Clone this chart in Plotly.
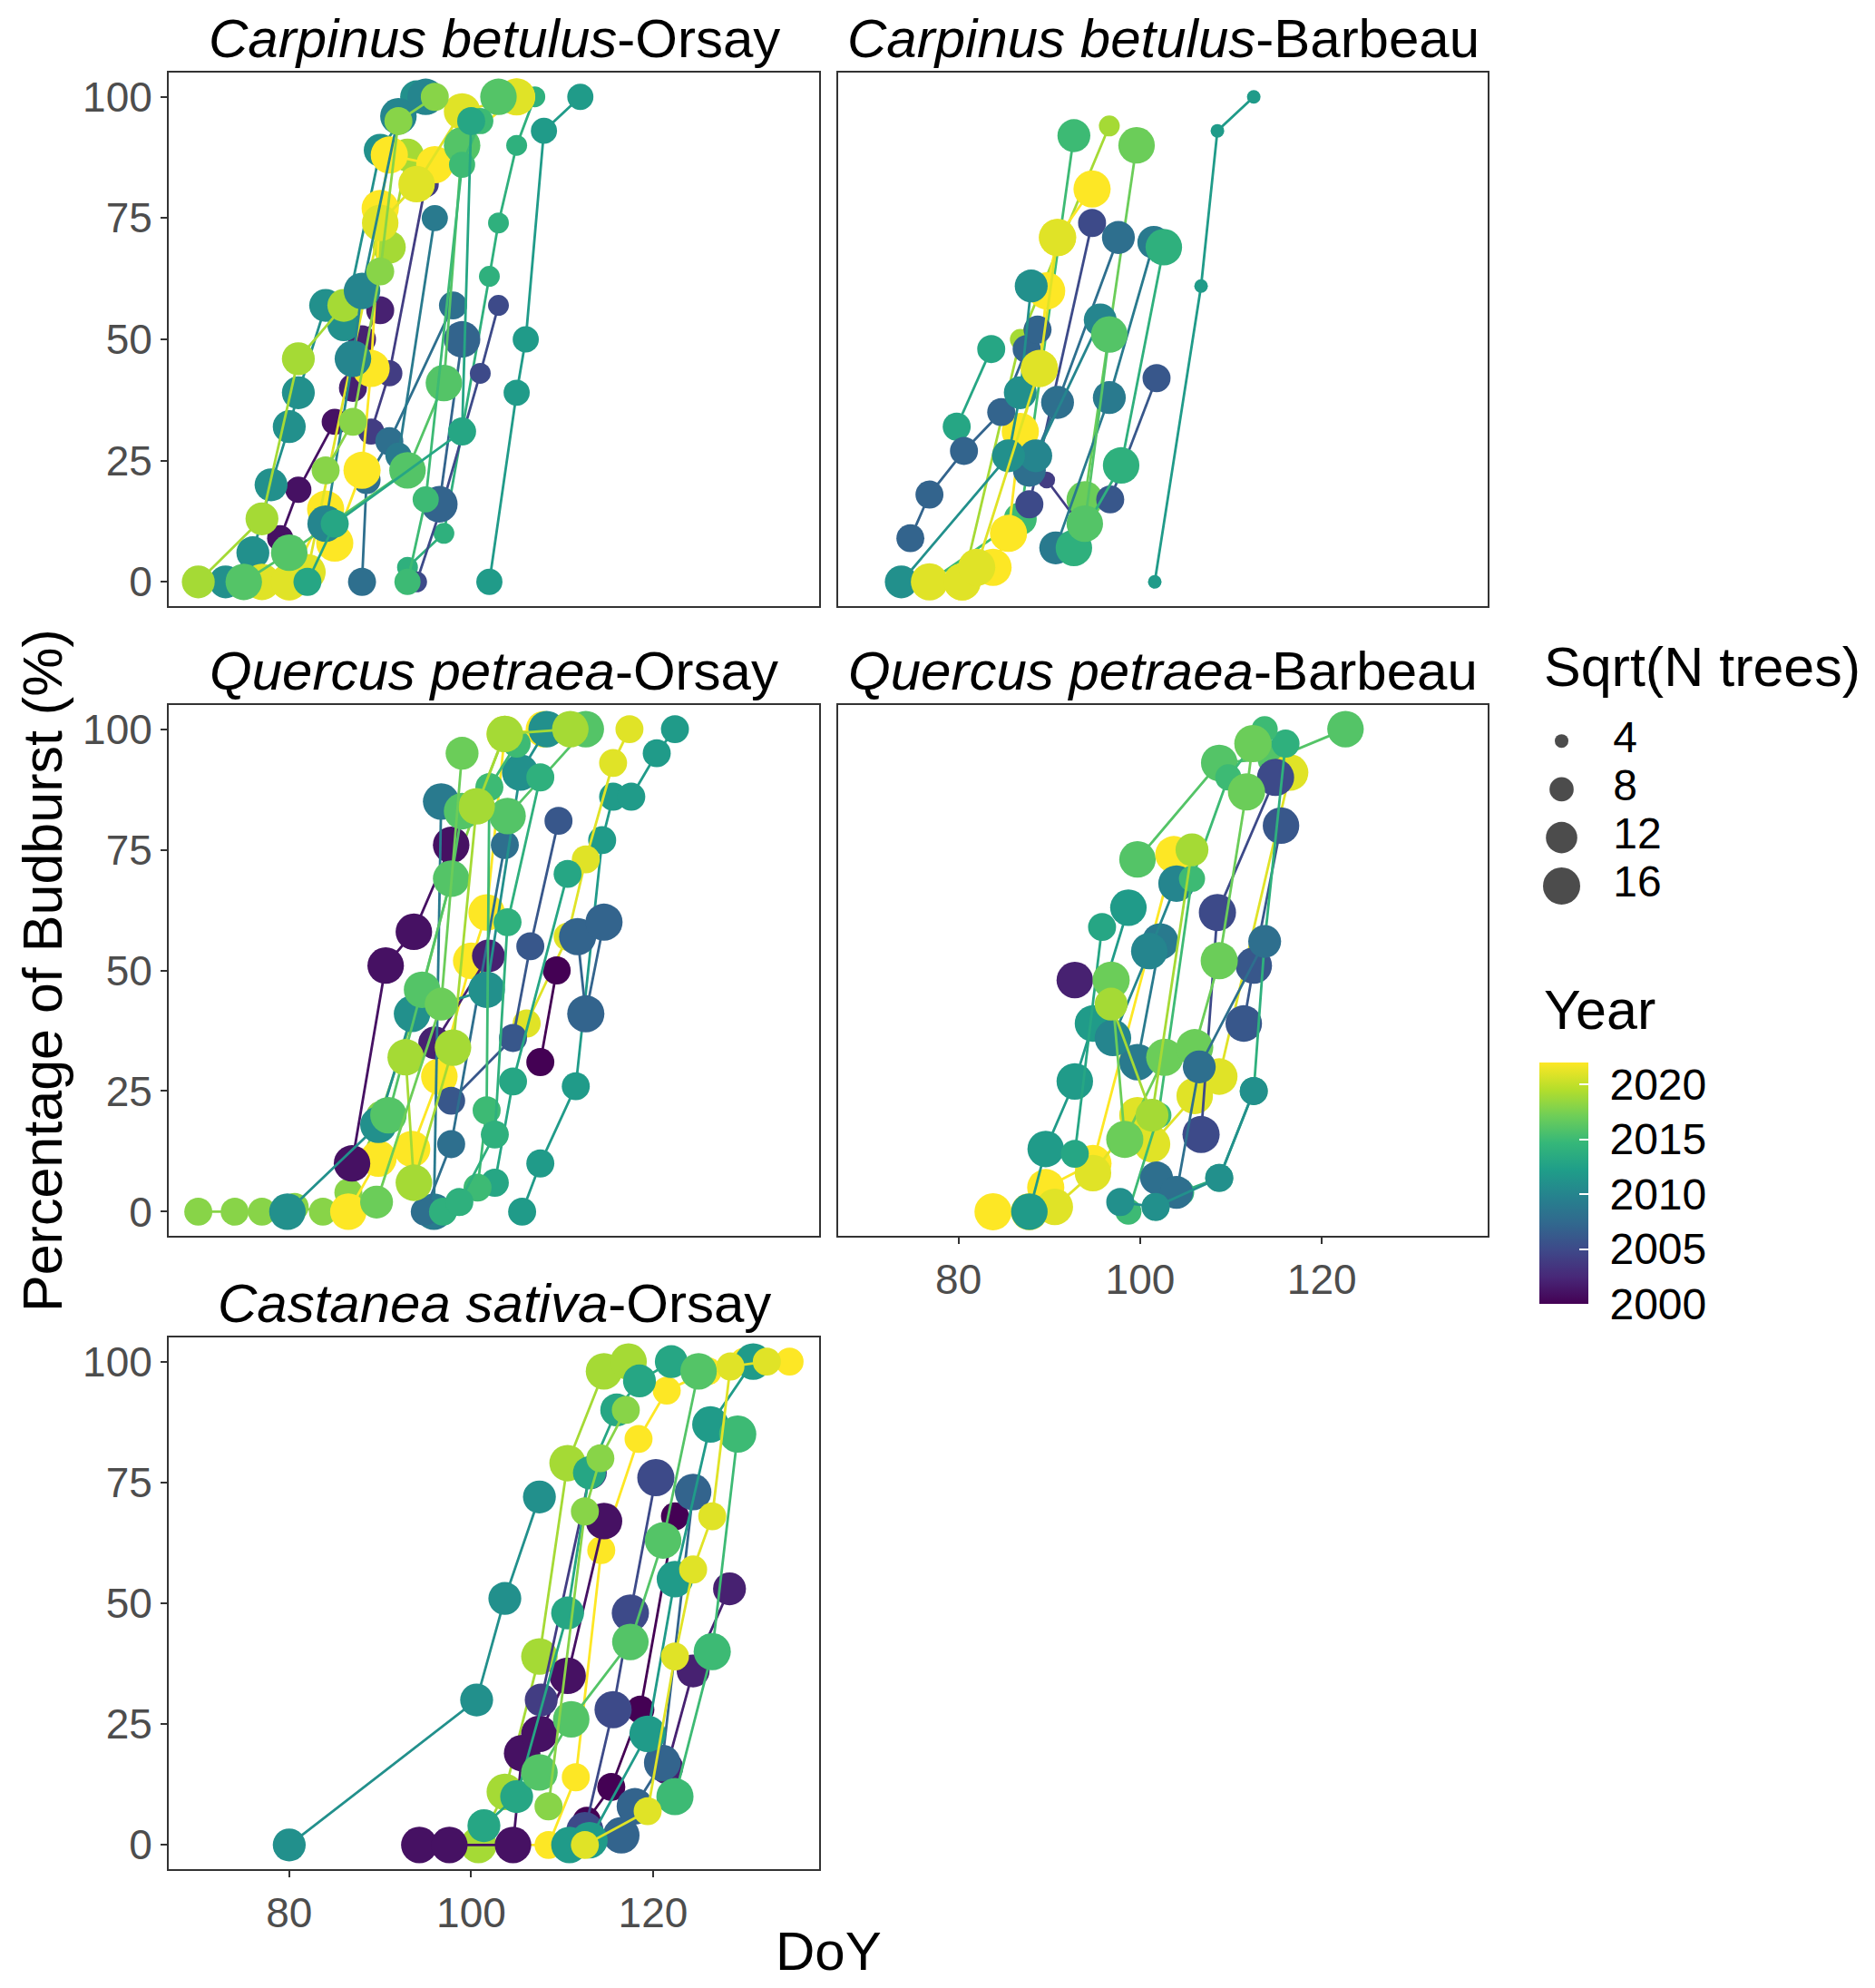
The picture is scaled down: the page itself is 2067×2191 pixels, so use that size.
import plotly.graph_objects as go
from plotly.colors import sample_colorscale, sequential

W, H = 2067, 2191
OFF = 8                      # page body margin of the html output
WF, HF = W - 2 * OFF, H - 2 * OFF
FONT = "Liberation Sans, Arial, sans-serif"

# ---- Carpinus betulus - Orsay
cbo_year = [2012, 2014, 2005, 2004, 2001, 2002, 2008, 2009, 2007, 2011,
            2019, 2022, 2021, 2016, 2015, 2010, 2018, 2013]
cbo_size = [9, 6.5, 6.5, 9, 9, 10, 10, 9, 15.5, 13, 13, 16, 15.5, 15.5, 9, 15.5, 10, 10]
cbo_doy = [[102, 105, 106, 108, 112], [93, 97, 102, 103, 105, 107], [94, 97, 101, 103],
           [89, 91, 95], [79, 81, 85], [87, 88, 90], [88, 88.5, 91, 98], [92, 96], [96.5, 99],
           [73, 76, 78, 80, 81, 84, 86, 90, 94], [70, 77, 81, 86, 91, 93],
           [80, 84, 85, 88, 89, 90, 91, 96, 105], [77, 80, 82, 90, 94, 99, 105],
           [75, 80, 93, 97, 99, 103], [93, 95, 99, 101], [84, 87, 88, 92, 95],
           [84, 87, 90, 92, 96], [82, 85, 99, 100]]
cbo_pct = [[0, 39, 50, 93, 100], [3, 10, 63, 74, 90, 100], [0, 17, 43, 57],
           [31, 43, 82], [9, 19, 33], [40, 50, 56], [0, 21, 29, 57], [26, 75], [16, 50],
           [0, 6, 20, 32, 39, 57, 53, 89, 100], [0, 13, 46, 57, 69, 88],
           [0, 15, 8, 23, 44, 77, 88, 86, 100], [0, 0, 2, 74, 82, 97, 100],
           [0, 6, 23, 41, 90, 100], [0, 17, 86, 95], [12, 46, 60, 96, 100],
           [23, 33, 64, 95, 100], [0, 12, 31, 95]]

# ---- Carpinus betulus - Barbeau
cbb_year = [2012, 2015, 2019, 2017, 2022, 2005, 2004, 2006, 2008, 2009,
            2014, 2010, 2016, 2013, 2007, 2011, 2021]
cbb_size = [4, 13, 6.5, 15.5, 16, 10, 5, 10, 13, 13, 15.5, 13, 15.5, 10, 10, 13, 16]
cbb_doy = [[101.6, 106.7, 108.5, 112.5], [76.8, 86.8, 92.7], [80.5, 86.8, 96.6], [93.9, 99.6],
           [80.4, 83.8, 85.5, 86.8, 88.9, 89.7, 90.9, 94.7], [87.8, 94.7], [89.7, 93.7],
           [96.7, 101.8], [87.8, 90.9, 97.6], [90.7, 96.6, 101.5], [92.7, 97.9, 102.6],
           [88.5, 95.6], [93.9, 96.6], [79.8, 83.6], [74.7, 76.8, 80.6, 84.7, 87.5, 88.7],
           [73.7, 85.5, 86.8, 88], [76.8, 80.4, 82, 88.9, 90.9]]
cbb_pct = [[0, 61, 93, 100], [0, 13, 92], [0, 50, 94], [17, 90],
           [0, 3, 10, 31, 44, 60, 71, 81], [16, 74], [21, 11], [17, 42], [23, 37, 71],
           [7, 38, 70], [7, 24, 69], [26, 54], [12, 51], [32, 48], [9, 18, 27, 35, 48, 52],
           [0, 26, 39, 61], [0, 0, 3, 44, 71]]

# ---- Quercus petraea - Orsay
qpo_year = [2018, 2012, 2021, 2022, 2001, 2000, 2002, 2006, 2009, 2008,
            2007, 2013, 2011, 2015, 2016, 2019, 2014, 2017]
qpo_size = [10, 10, 10, 15.5, 15.5, 10, 13, 10, 15.5, 10, 16, 10, 15.5, 10, 15.5, 15.5, 10, 13]
qpo_doy = [[70, 74, 77, 80.6, 83.7, 86.5, 90, 94.6, 97.8, 100.6, 103.7],
           [105.6, 107.6, 111.5, 114.4, 115.6, 117.6, 120.4, 122.4],
           [106.1, 110.6, 112.6, 115.6, 117.4], [86.5, 89.8, 93.5, 96.5, 100, 101.7, 103.7, 108],
           [86.9, 90.6, 93.7, 97.8], [107.6, 109.4], [96, 101.9], [97.8, 104.6, 106.5, 109.6],
           [95.9, 96.7], [94.9, 97.8, 103.7], [111.7, 112.6, 114.6], [102.6, 104.6, 110.6],
           [79.8, 89.8, 93.5, 101.7, 105.4, 108.3], [100.7, 101.7, 102, 105],
           [90.9, 94.6, 97.8, 99, 104, 112.6], [92.8, 93.7, 98, 100.6, 103.7, 110.9],
           [96.9, 98.7, 102.6, 104, 107.6], [89.6, 96.7, 99]]
qpo_pct = [[0, 0, 0, 1, 0, 4, 20, 46, 69, 84, 99], [0, 10, 26, 77, 86, 86, 95, 100],
           [39, 57, 73, 93, 100], [0, 11, 13, 28, 52, 62, 99, 100], [10, 51, 58, 76],
           [31, 50], [35, 53], [23, 36, 55, 81], [0, 85], [0, 14, 76], [57, 41, 60],
           [6, 27, 70], [0, 18, 41, 46, 91, 100], [5, 21, 88, 97], [20, 46, 69, 83, 82, 100],
           [32, 6, 34, 84, 99, 100], [0, 2, 16, 60, 90], [2, 43, 95]]

# ---- Quercus petraea - Barbeau
qpb_year = [2016, 2022, 2021, 2012, 2013, 2002, 2009, 2010, 2005, 2006,
            2014, 2015, 2017, 2008, 2011, 2019]
qpb_size = [15.5, 16, 15.5, 15.5, 10, 15.5, 15.5, 15.5, 16, 15.5, 10, 9, 16, 13, 10, 13]
qpb_doy = [[99.7, 108.7, 114.9, 122.6], [83.8, 87.8, 89.6, 94.8, 103.7],
           [90.6, 94.8, 99.7, 101.3, 106, 108.7, 116.5], [87.8, 89.6, 92.8, 94.8, 98.7],
           [92.8, 95.8], [92.8], [99.7, 102.2], [97, 101, 104], [106.7, 108.5, 114.9],
           [111.4, 112.5, 115.5], [101.7, 104.4, 108.7, 112.5, 113.7, 116],
           [98.7, 102, 105.7, 109.7, 113.7], [96.8, 98.3, 102.7, 106, 108.7, 111.7, 112.4],
           [101.8, 104, 106.5, 113.7], [97.8, 101.7, 108.7, 112.5], [96.8, 101.3, 105.7]]
qpb_pct = [[73, 93, 94, 100], [0, 0, 5, 10, 74], [1, 8, 20, 14, 24, 28, 91],
           [0, 13, 27, 39, 63], [12, 59], [48], [31, 56], [36, 54, 68], [16, 62, 90],
           [39, 51, 80], [1, 4, 7, 25, 56, 97], [0, 20, 69, 90, 100],
           [48, 15, 32, 34, 52, 87, 97], [7, 4, 30, 56], [2, 1, 7, 25], [43, 20, 75]]

# ---- Castanea sativa - Orsay
cso_year = [2011, 2019, 2022, 2001, 2000, 2002, 2004, 2005, 2007, 2012,
            2013, 2016, 2015, 2018, 2021]
cso_size = [13, 15.5, 10, 15.5, 10, 13, 13, 16, 15.5, 15.5, 13, 15.5, 16, 10, 10]
cso_doy = [[80, 100.6, 103.7, 107.5], [100.8, 103.7, 107.5, 110.6, 114.6, 117.3],
           [104.6, 108.5, 111.5, 114.3, 118.4, 121.5, 126, 130, 135],
           [94.3, 97.6, 104.6, 105.6, 107.5, 110.6, 114.6], [112.7, 115.4, 118.6, 122.4],
           [121.5, 124.4, 128.4], [107.7, 113.1], [112.5, 115.6, 117.5, 120.3],
           [116.5, 118, 121, 124.4], [110.8, 113, 119.4, 122.4, 126.3, 131],
           [101.4, 105, 110.6, 113, 116, 118.5, 122], [107.5, 111, 117.5, 121.1, 125],
           [122.4, 126.5, 129.3], [108.5, 112.5, 114.2, 117],
           [112.5, 119.4, 122.4, 124.4, 126.5, 128.5, 132.5]]
cso_pct = [[0, 30, 51, 72], [0, 11, 39, 79, 98, 100], [0, 0, 14, 61, 84, 94, 98, 100, 100],
           [0, 0, 0, 19, 23, 35, 67], [5, 12, 28, 68], [16, 36, 53], [30, 77],
           [3, 28, 48, 76], [2, 8, 17, 73], [0, 1, 23, 55, 87, 100],
           [4, 10, 48, 77, 90, 96, 100], [15, 26, 42, 63, 98], [10, 40, 85],
           [8, 69, 80, 90], [0, 7, 39, 57, 68, 99, 100]]

size_breaks = [4, 8, 12, 16]
year_ticks = [2000, 2005, 2010, 2015, 2020]
year_min, year_max = 2000, 2022

panels = [
    ("<i>Carpinus betulus</i>-Orsay", cbo_year, cbo_size, cbo_doy, cbo_pct),
    ("<i>Carpinus betulus</i>-Barbeau", cbb_year, cbb_size, cbb_doy, cbb_pct),
    ("<i>Quercus petraea</i>-Orsay", qpo_year, qpo_size, qpo_doy, qpo_pct),
    ("<i>Quercus petraea</i>-Barbeau", qpb_year, qpb_size, qpb_doy, qpb_pct),
    ("<i>Castanea sativa</i>-Orsay", cso_year, cso_size, cso_doy, cso_pct),
]

# panel boxes in page pixels (left, right) / (top, bottom)
col_px = [(186, 903), (924, 1640)]
row_px = [(80, 668), (777, 1362), (1474, 2060)]
cells = [(0, 0), (0, 1), (1, 0), (1, 1), (2, 0)]


def fx(px):
    return (px - OFF) / WF


def fy(py):
    return 1 - (py - OFF) / HF


def diam(s):
    # area-proportional size scale, like ggplot scale_size
    return max(121.3 * s - 260, 150) ** 0.5


def ycol(y):
    return sample_colorscale(sequential.Viridis, [(y - year_min) / (year_max - year_min)])[0]


fig = go.Figure()
layout = {}
annotations = []

for i, (title, years, sizes, doys, pcts) in enumerate(panels):
    n = i + 1
    r, c = cells[i]
    xs = "" if n == 1 else str(n)
    for yr, s, dx, py in zip(years, sizes, doys, pcts):
        col = ycol(yr)
        fig.add_trace(go.Scatter(
            x=dx, y=py, mode="lines+markers",
            line=dict(color=col, width=2.8),
            marker=dict(color=col, size=diam(s), line=dict(width=0)),
            showlegend=False, xaxis="x" + xs, yaxis="y" + xs))
    show_x = n in (4, 5)
    show_y = c == 0
    l, rr = col_px[c]
    t, b = row_px[r]
    layout["xaxis" + xs] = dict(
        domain=[fx(l), fx(rr)], range=[66.75, 138.25], anchor="y" + xs,
        showline=True, mirror=True, linecolor="#333333", linewidth=2,
        showgrid=False, zeroline=False, tickvals=[80, 100, 120],
        ticks="outside" if show_x else "", ticklen=7, tickwidth=2, tickcolor="#333333",
        showticklabels=show_x, tickfont=dict(size=46, color="#4D4D4D", family=FONT))
    layout["yaxis" + xs] = dict(
        domain=[fy(b), fy(t)], range=[-5, 105], anchor="x" + xs,
        showline=True, mirror=True, linecolor="#333333", linewidth=2,
        showgrid=False, zeroline=False, tickvals=[0, 25, 50, 75, 100],
        ticks="outside" if show_y else "", ticklen=7, tickwidth=2, tickcolor="#333333",
        showticklabels=show_y, tickfont=dict(size=46, color="#4D4D4D", family=FONT))
    annotations.append(dict(
        text=title, x=fx((l + rr) / 2), y=fy(t - 38),
        xanchor="center", yanchor="middle",
        font=dict(size=60, color="black", family=FONT)))

# colour bar for Year
fig.add_trace(go.Scatter(
    x=[None], y=[None], mode="markers", showlegend=False,
    marker=dict(color=[year_min], colorscale="Viridis", cmin=year_min, cmax=year_max,
                showscale=True,
                colorbar=dict(x=fx(1697), xanchor="left", y=fy(1437), yanchor="bottom",
                              len=(1437 - 1171) / HF, lenmode="fraction",
                              thickness=54, thicknessmode="pixels", outlinewidth=0,
                              tickvals=year_ticks,
                              ticktext=["\u00a0" + str(v) for v in year_ticks],
                              ticks="inside", ticklen=10,
                              tickcolor="white", tickwidth=2, xpad=0, ypad=0,
                              tickfont=dict(size=48, color="black", family=FONT))),
    xaxis="x", yaxis="y"))

# size legend keys on their own hidden axis
fig.add_trace(go.Scatter(
    x=[0.15] * len(size_breaks), y=list(range(len(size_breaks))), mode="markers",
    marker=dict(color="black", size=[diam(s) for s in size_breaks], line=dict(width=0)),
    showlegend=False, xaxis="x6", yaxis="y6"))
fig.add_trace(go.Scatter(
    x=[0.42] * len(size_breaks), y=list(range(len(size_breaks))), mode="text",
    text=[str(s) for s in size_breaks], textposition="middle right",
    textfont=dict(size=48, color="black", family=FONT),
    showlegend=False, xaxis="x6", yaxis="y6"))
layout["xaxis6"] = dict(domain=[fx(1690), fx(1900)], range=[0, 1], visible=False, anchor="y6")
layout["yaxis6"] = dict(domain=[fy(1003), fy(790)], range=[3.5, -0.5],
                        visible=False, anchor="x6")

annotations += [
    dict(text="Sqrt(N trees)", x=fx(1700), y=fy(735), xanchor="left", yanchor="middle",
         font=dict(size=61, color="black", family=FONT)),
    dict(text="Year", x=fx(1700), y=fy(1113), xanchor="left", yanchor="middle",
         font=dict(size=61, color="black", family=FONT)),
    dict(text="DoY", x=fx(913), y=fy(2150), xanchor="center", yanchor="middle",
         font=dict(size=60, color="black", family=FONT)),
    dict(text="Percentage of Budburst (%)", x=fx(47), y=fy(1070), textangle=-90,
         xanchor="center", yanchor="middle", font=dict(size=61, color="black", family=FONT)),
]
for a in annotations:
    a["xref"] = "paper"
    a["yref"] = "paper"
    a["showarrow"] = False

fig.update_layout(
    width=WF, height=HF, margin=dict(l=0, r=0, t=0, b=0),
    paper_bgcolor="white", plot_bgcolor="white",
    font=dict(family=FONT), annotations=annotations, **layout)

fig.write_html("out.html")
